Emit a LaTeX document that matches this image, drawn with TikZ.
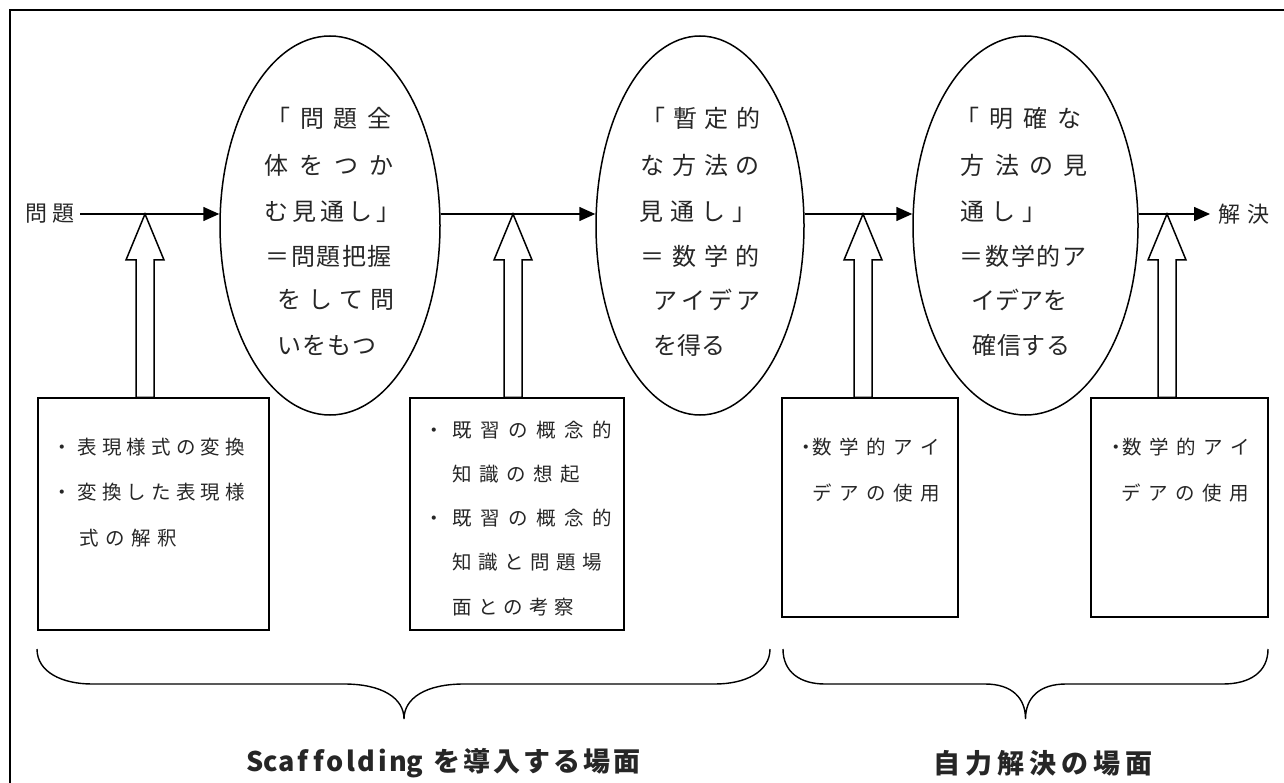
\documentclass[tikz,border=0pt]{standalone}
\usepackage{fontspec}
\setmainfont{Noto Sans CJK JP}
\usetikzlibrary{shapes.geometric,arrows.meta}
\newlength\spw
\def\spreadaux#1{\ifx\relax#1\else\makebox[\spw][l]{#1}\expandafter\spreadaux\fi}
\newcommand\spread[2]{\setlength\spw{#1}\spreadaux#2\relax}
\def\spreadcaux#1{\ifx\relax#1\else\makebox[\spw][c]{#1}\expandafter\spreadcaux\fi}
\newcommand\spreadc[2]{\setlength\spw{#1}\spreadcaux#2\relax}
\newcommand\blockarr[2]{%
  \coordinate (#1s) at (#1 |- #2.north);
  \draw[hollow] (#1) -- ([xshift=19,yshift=-46]#1) -- ([xshift=9,yshift=-46]#1)
    -- ([xshift=9]#1s) -- ([xshift=-9]#1s) -- ([xshift=-9,yshift=-46]#1)
    -- ([xshift=-19,yshift=-46]#1) -- cycle;}
\begin{document}
\begin{tikzpicture}[x=1pt,y=-1pt,line width=1.5pt,
  tl/.style={anchor=west,inner sep=0pt,text=black!85},
  etx/.style={tl,font=\fontsize{24}{24}\selectfont},
  btx/.style={tl,font=\fontsize{19.5}{20}\selectfont},
  lbl/.style={tl,font=\fontsize{27}{27}\selectfont\bfseries},
  oval/.style={draw,ellipse,minimum height=379pt,inner sep=0pt},
  boxn/.style={draw,rectangle,inner sep=0pt},
  arr/.style={-{Triangle[length=16pt,width=14pt]}},
  hollow/.style={draw,fill=white,line width=1.5pt},
  brace/.style={line width=1.4pt}]
\useasboundingbox (0,0) rectangle (1284,783);
\clip (0,0) rectangle (1284,783);
% frame
\draw[line width=2.5pt] (1300,10) -- (10,10) -- (10,800);
% ellipses
\node[oval,minimum width=220pt] (e1) at (330,225.5) {};
\node[oval,minimum width=208pt] (e2) at (700,225.5) {};
\node[oval,minimum width=225pt] (e3) at (1025.5,225.5) {};
% end texts
\node[anchor=east,inner sep=0pt,text=black!85,font=\fontsize{22}{22}\selectfont] (p) at (80,214) {\spread{27pt}{問題}};
\node[anchor=west,inner xsep=8pt,inner ysep=0pt,text=black!85,font=\fontsize{22}{22}\selectfont] (s) at (1210,214) {\spread{29pt}{解決}};
% flow arrows
\draw[arr] (p.east) -- (p -| e1.west);
\draw[arr] (p -| e1.east) -- (p -| e2.west);
\draw[arr] (p -| e2.east) -- (p -| e3.west);
\draw[arr] (p -| e3.east) -- (s.west);
% ellipse 1 text
\node[etx] (e1a) at (266,118) {\spread{33.5pt}{「問題全}};
\node[etx] (e1b) at (264,165) {\spread{35pt}{体をつか}};
\node[etx] (e1c) at (264,212) {\spread{28pt}{む見通し」}};
\node[etx] (e1d) at (265,256) {\spread{25.5pt}{＝問題把握}};
\node[etx] (e1e) at (277,300) {\spread{31pt}{をして問}};
\node[etx] (e1f) at (277,345) {\spread{25pt}{いをもつ}};
% ellipse 2 text
\node[etx] (e2a) at (641,118) {\spread{31.5pt}{「暫定的}};
\node[etx] (e2b) at (640,165) {\spread{31.7pt}{な方法の}};
\node[etx] (e2c) at (639,212) {\spread{31pt}{見通し」}};
\node[etx] (e2d) at (640,256) {\spread{31.7pt}{＝数学的}};
\node[etx] (e2e) at (653,300) {\spread{27.5pt}{アイデア}};
\node[etx] (e2f) at (653,345) {\spread{24pt}{を得る}};
% ellipse 3 text
\node[etx] (e3a) at (955,118) {\spread{34pt}{「明確な}};
\node[etx] (e3b) at (960,165) {\spread{34.3pt}{方法の見}};
\node[etx] (e3c) at (960,212) {\spread{31pt}{通し」}};
\node[etx] (e3d) at (959,256) {\spread{25.7pt}{＝数学的ア}};
\node[etx] (e3e) at (971,300) {\spread{24pt}{イデアを}};
\node[etx] (e3f) at (972,345) {\spread{24.5pt}{確信する}};
% boxes
\node[boxn,minimum width=231pt,minimum height=232pt] (b1) at (153.5,514) {};
\node[boxn,minimum width=214pt,minimum height=232pt] (b2) at (517,514) {};
\node[boxn,minimum width=176pt,minimum height=219pt] (b3) at (870,507.5) {};
\node[boxn,minimum width=177pt,minimum height=219pt] (b4) at (1179.5,507.5) {};
% block arrows
\coordinate (t1) at (145,214);
\coordinate (t2) at (513,214);
\coordinate (t3) at (863,214);
\coordinate (t4) at (1167,214);
\blockarr{t1}{b1}
\blockarr{t2}{b2}
\blockarr{t3}{b3}
\blockarr{t4}{b4}
% box texts
\node[btx] (b1a) at (52,447) {\spread{24.7pt}{・表現様式の変換}};
\node[btx] (b1b) at (52,492) {\spread{24.7pt}{・変換した表現様}};
\node[btx] (b1c) at (79,538) {\spread{26pt}{式の解釈}};
\node[btx] (b2a) at (424,430) {\spread{28pt}{・既習の概念的}};
\node[btx] (b2b) at (452,474) {\spread{27pt}{知識の想起}};
\node[btx] (b2c) at (424,518) {\spread{28pt}{・既習の概念的}};
\node[btx] (b2d) at (452,562) {\spread{26pt}{知識と問題場}};
\node[btx] (b2e) at (452,607) {\spread{25.5pt}{面との考察}};
\node[btx] (b3a) at (798,447) {\makebox[14pt][c]{・}\spread{27pt}{数学的アイ}};
\node[btx] (b3b) at (812,493) {\spread{27pt}{デアの使用}};
\node[btx] (b4a) at (1108,447) {\makebox[14pt][c]{・}\spread{27pt}{数学的アイ}};
\node[btx] (b4b) at (1121,493) {\spread{27pt}{デアの使用}};
% braces
\draw[brace] (37,649) .. controls (37,672) and (62,684) .. (92,684) -- (344,684)
  .. controls (382,684) and (404,698) .. (404,719)
  .. controls (404,698) and (426,684) .. (464,684) -- (715,684)
  .. controls (745,684) and (770,672) .. (770,649);
\draw[brace] (783,649) .. controls (783,672) and (800,684) .. (825,684) -- (985,684)
  .. controls (1012,684) and (1025.5,698) .. (1025.5,719)
  .. controls (1025.5,698) and (1039,684) .. (1066,684) -- (1223,684)
  .. controls (1250,684) and (1268,672) .. (1268,649);
% labels
\node[lbl] (lab1) at (246,763) {\spreadc{16pt}{Scaffolding}\hspace{11pt}\spread{30pt}{を導入する場面}};
\node[lbl] (lab2) at (933,763) {\spread{32pt}{自力解決の場面}};
\end{tikzpicture}
\end{document}
